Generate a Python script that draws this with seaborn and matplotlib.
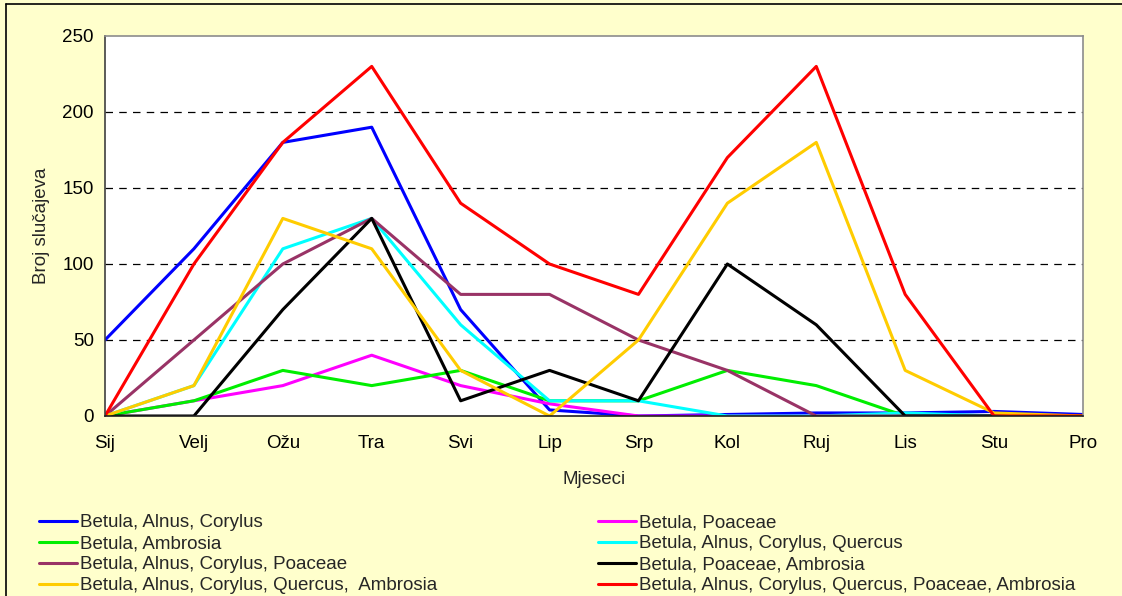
import numpy as np
import pandas as pd
import matplotlib
matplotlib.use("Agg")
import matplotlib.pyplot as plt
from matplotlib.lines import Line2D
import seaborn as sns

months = ["Sij", "Velj", "Ožu", "Tra", "Svi", "Lip", "Srp", "Kol", "Ruj", "Lis", "Stu", "Pro"]

betula_alnus_corylus = [50, 110, 180, 190, 70, 4, 0, 1, 2, 2, 3, 1]
betula_poaceae = [0, 10, 20, 40, 20, 8, 0, 0, 0, 0, 0, 0]
betula_ambrosia = [0, 10, 30, 20, 30, 10, 10, 30, 20, 0, 0, 0]
betula_alnus_corylus_quercus = [0, 20, 110, 130, 60, 10, 10, 0, 0, 2, 0, 0]
betula_alnus_corylus_poaceae = [0, 50, 100, 130, 80, 80, 50, 30, 0, 0, 0, 0]
betula_poaceae_ambrosia = [0, 0, 70, 130, 10, 30, 10, 100, 60, 0, 0, 0]
betula_alnus_corylus_quercus_ambrosia = [0, 20, 130, 110, 30, 0, 50, 140, 180, 30, 2, 0]
all_six = [0, 100, 180, 230, 140, 100, 80, 170, 230, 80, 0, 0]

series_names = [
    "Betula, Alnus, Corylus",
    "Betula, Poaceae",
    "Betula, Ambrosia",
    "Betula, Alnus, Corylus, Quercus",
    "Betula, Alnus, Corylus, Poaceae",
    "Betula, Poaceae, Ambrosia",
    "Betula, Alnus, Corylus, Quercus,  Ambrosia",
    "Betula, Alnus, Corylus, Quercus, Poaceae, Ambrosia",
]
series_values = [
    betula_alnus_corylus,
    betula_poaceae,
    betula_ambrosia,
    betula_alnus_corylus_quercus,
    betula_alnus_corylus_poaceae,
    betula_poaceae_ambrosia,
    betula_alnus_corylus_quercus_ambrosia,
    all_six,
]
colors = ["#0000FF", "#FF00FF", "#00EE00", "#00FFFF", "#993366", "#000000", "#FFCC00", "#FF0000"]

rows = []
for name, vals in zip(series_names, series_values):
    for i, v in enumerate(vals):
        rows.append({"Mjesec": i, "Broj": v, "Kombinacija": name})
df = pd.DataFrame(rows)

sns.set_style("white")
plt.rcParams["font.family"] = ["Liberation Sans", "DejaVu Sans"]

FS = 13.5
LW = 2.2
bg = "#FFFFCC"
fig = plt.figure(figsize=(11.22, 5.96), dpi=100, facecolor=bg)
ax = fig.add_axes([105 / 1122, 1 - 416 / 596, (1083 - 105) / 1122, (416 - 36) / 596])
ax.set_facecolor("white")

sns.lineplot(
    data=df, x="Mjesec", y="Broj", hue="Kombinacija",
    hue_order=series_names, palette=dict(zip(series_names, colors)),
    linewidth=LW, sort=False, estimator=None, ax=ax, legend=True,
)

ax.set_xlim(0, len(months) - 1)
ax.set_ylim(0, 250)
ax.set_xticks(range(len(months)))
ax.set_xticklabels(months)
ax.set_yticks([0, 50, 100, 150, 200, 250])
ax.tick_params(axis="both", direction="out", length=5, width=1, color="#333333",
               labelsize=FS, labelcolor="black", pad=3)
ax.tick_params(axis="x", pad=9)

for y in [50, 100, 150, 200]:
    ax.axhline(y, color="black", linewidth=0.9, linestyle=(0, (6, 5)), zorder=0.5)

ax.spines["left"].set_color("#404040")
ax.spines["bottom"].set_color("#202020")
ax.spines["top"].set_color("#8C8C8C")
ax.spines["right"].set_color("#8C8C8C")
for s in ax.spines.values():
    s.set_linewidth(1.2)

ax.set_xlabel("Mjeseci", fontsize=FS, labelpad=13)
ax.set_ylabel("Broj slučajeva", fontsize=FS, labelpad=9)

handles, labels = ax.get_legend_handles_labels()
ax.get_legend().remove()
lookup = dict(zip(labels, handles))

left_col = [series_names[i] for i in (0, 2, 4, 6)]
right_col = [series_names[i] for i in (1, 3, 5, 7)]
common = dict(frameon=False, fontsize=FS, handlelength=2.0, handletextpad=0.17,
              labelspacing=0.21, borderaxespad=0, borderpad=0, loc="upper left")
leg1 = fig.legend([lookup[n] for n in left_col], left_col,
                  bbox_to_anchor=(39 / 1122, 1 - 514 / 596), **common)
leg2 = fig.legend([lookup[n] for n in right_col], right_col,
                  bbox_to_anchor=(598 / 1122, 1 - 514 / 596), **common)
for leg in (leg1, leg2):
    for line in leg.get_lines():
        line.set_linewidth(LW)

# outer chart border (top and left edges)
top_y = 1 - 4 / 596
left_x = 6 / 1122
fig.add_artist(Line2D([left_x, 1], [top_y, top_y], transform=fig.transFigure,
                      color="black", linewidth=1.2))
fig.add_artist(Line2D([left_x, left_x], [0, top_y], transform=fig.transFigure,
                      color="black", linewidth=1.2))

fig.savefig("out.png", dpi=100, facecolor=bg)
